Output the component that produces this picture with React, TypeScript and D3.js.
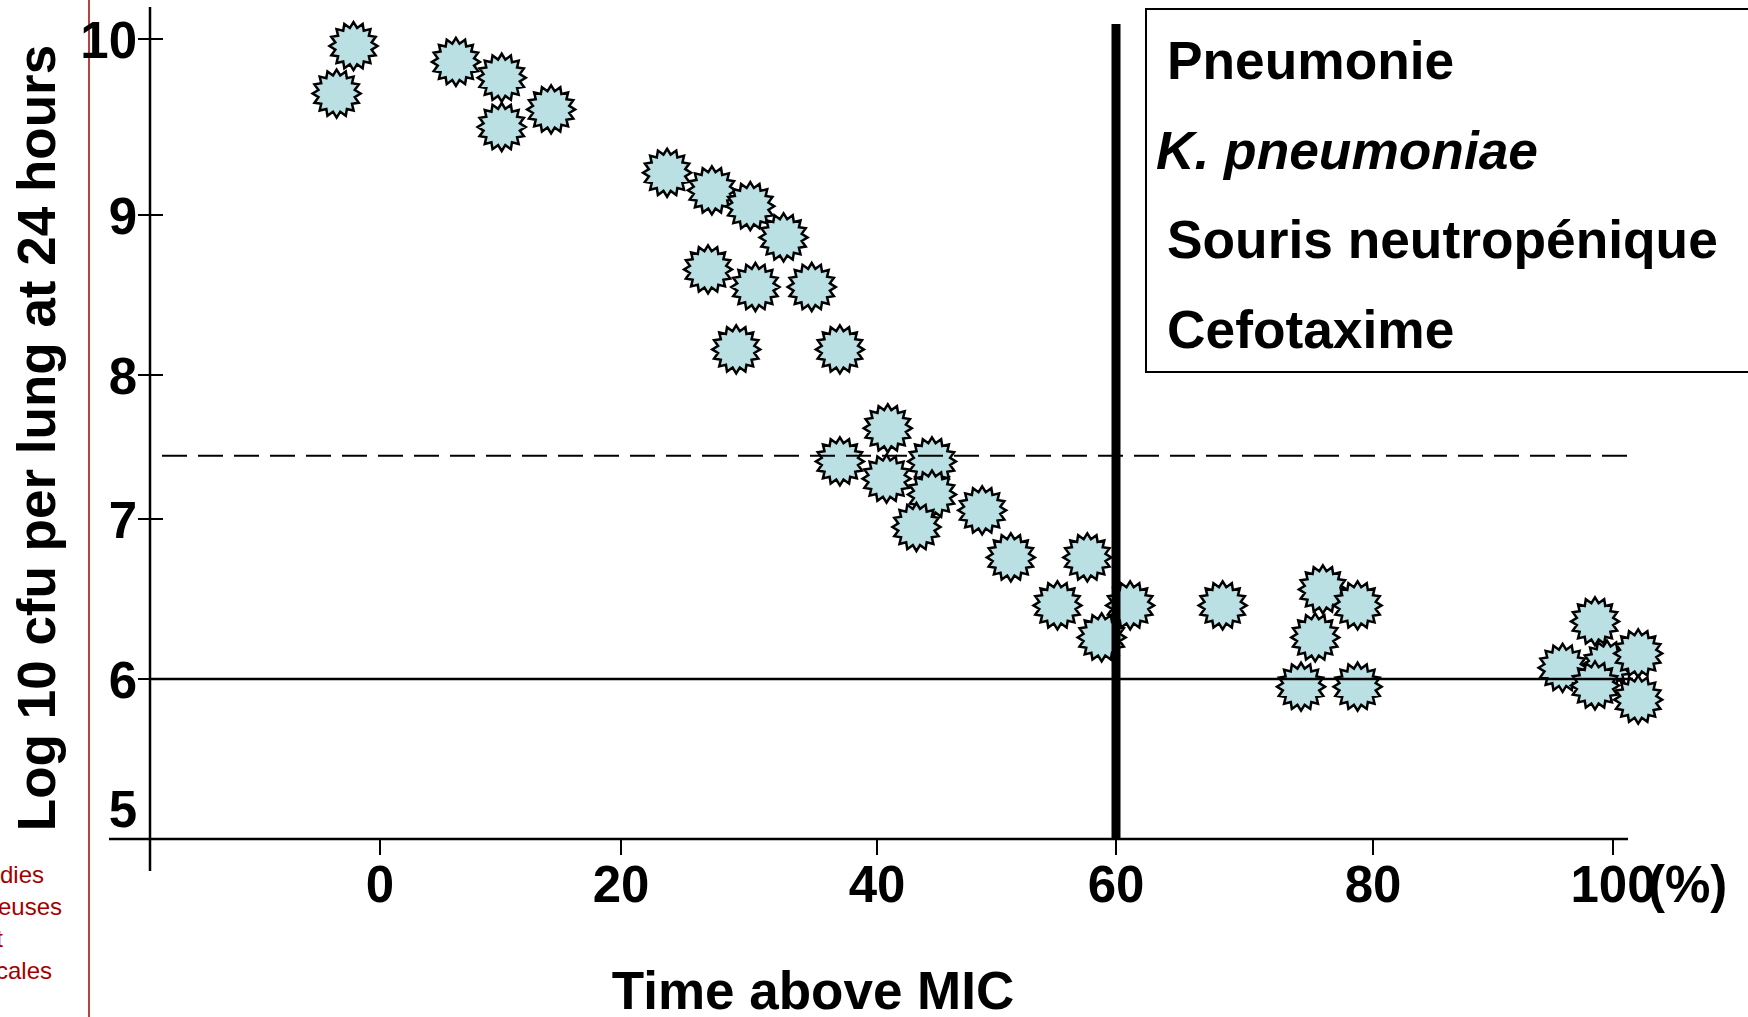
import React from 'react';
import * as d3 from 'd3';

// values
const timeAboveMic = [
  -2.2, -3.6, 6.3, 10.1, 10.1, 14.2,
  23.6, 27.1, 30.1, 32.7, 26.8, 30.5, 34.9, 29.0, 37.1,
  40.9, 37.1, 44.6, 40.8, 44.6, 43.3, 48.8, 51.2, 57.6, 55.1, 61.1, 58.8,
  68.3, 76.1, 78.8, 75.5, 74.4, 78.8,
  99.5, 98.5, 102.1, 95.8, 98.5, 102.1,
];
const log10Cfu = [
  9.96, 9.69, 9.87, 9.78, 9.5, 9.6,
  9.24, 9.14, 9.05, 8.86, 8.66, 8.55, 8.55, 8.16, 8.16,
  7.63, 7.4, 7.4, 7.28, 7.17, 6.95, 7.06, 6.76, 6.76, 6.46, 6.46, 6.26,
  6.46, 6.56, 6.46, 6.26, 5.94, 5.94,
  6.09, 6.36, 6.16, 6.07, 5.95, 5.84,
];

const xTicks = [0, 20, 40, 60, 80, 100];
const yTicks = [6, 7, 8, 9, 10];
const yLabels = [5, 6, 7, 8, 9, 10];
const legendLines = ['Pneumonie', 'K. pneumoniae', 'Souris neutropénique', 'Cefotaxime'];
const sideNotes = ['dies', 'euses', 't', 'cales'];

const dashedLevel = 7.44;
const solidLevel = 6;
const breakpoint = 60;

const W = 1748;
const H = 1017;
const FONT = 'Arial, "Liberation Sans", Helvetica, sans-serif';

// the slide was drawn by hand, so the axes are not quite even
const x = d3.scaleLinear().domain(xTicks).range([380, 621, 877, 1116, 1373, 1613]);
const y = d3.scaleLinear().domain(yLabels).range([808, 679, 519, 375, 215, 39]);

const axisX = 150;
const axisY = 839;

const starPath = d3.lineRadial().curve(d3.curveLinearClosed)(
  d3.range(32).map(i => [(i * Math.PI) / 16, i % 2 === 0 ? 24 : 18.5])
);

const App = () => {
  const points = timeAboveMic.map((t, i) => ({ t, v: log10Cfu[i] }));

  return (
    <svg width={W} height={H} style={{ position: 'absolute', left: 0, top: 0, background: '#fff' }}
      fontFamily={FONT}>
      {/* slide edge on the left */}
      <line x1={89} x2={89} y1={0} y2={H} stroke="#a40000" strokeWidth={1.5} />
      {sideNotes.map((s, i) => (
        <text key={s} x={[44, 62, 3, 52][i]} y={883 + i * 32} textAnchor="end" fontSize={24} fill="#a40000">{s}</text>
      ))}

      {/* axes */}
      <line x1={axisX} x2={axisX} y1={7} y2={871} stroke="#000" strokeWidth={2.5} />
      <line x1={109} x2={1628} y1={axisY} y2={axisY} stroke="#000" strokeWidth={2.5} />
      {yTicks.map(v => (
        <line key={'yt' + v} x1={138} x2={163} y1={y(v)} y2={y(v)} stroke="#000" strokeWidth={2} />
      ))}
      {yLabels.map(v => (
        <text key={'yl' + v} x={137} y={y(v) + 19} textAnchor="end" fontSize={51} fontWeight="bold">{v}</text>
      ))}
      {xTicks.map(v => (
        <line key={'xt' + v} x1={x(v)} x2={x(v)} y1={axisY} y2={axisY + 16} stroke="#000" strokeWidth={2} />
      ))}
      {xTicks.map(v => (
        <text key={'xl' + v} x={x(v)} y={902} textAnchor="middle" fontSize={51} fontWeight="bold">{v}</text>
      ))}
      <text x={1648} y={902} fontSize={51} fontWeight="bold">(%)</text>

      {/* data */}
      {points.map((p, i) => (
        <path key={i} d={starPath} transform={`translate(${x(p.t)},${y(p.v)})`}
          fill="#bae0e3" stroke="#000" strokeWidth={2.5} strokeLinejoin="miter" />
      ))}

      {/* reference lines */}
      <line x1={axisX} x2={1633} y1={y(solidLevel)} y2={y(solidLevel)} stroke="#000" strokeWidth={2.5} />
      <line x1={162} x2={1638} y1={y(dashedLevel)} y2={y(dashedLevel)} stroke="#000" strokeWidth={2}
        strokeDasharray="25 11" />
      <line x1={x(breakpoint)} x2={x(breakpoint)} y1={24} y2={axisY} stroke="#000" strokeWidth={9} />

      {/* legend box */}
      <rect x={1146} y={9} width={700} height={363} fill="#fff" stroke="#000" strokeWidth={2} />
      {legendLines.map((s, i) => (
        <text key={s} x={i === 1 ? 1156 : 1167} y={79 + i * 89.7} fontSize={53.3} fontWeight="bold"
          fontStyle={i === 1 ? 'italic' : 'normal'}>{s}</text>
      ))}

      {/* titles */}
      <text transform="translate(55,438) rotate(-90)" textAnchor="middle" fontSize={53} fontWeight="bold">
        Log 10 cfu per lung at 24 hours
      </text>
      <text x={813} y={1009} textAnchor="middle" fontSize={53} fontWeight="bold">Time above MIC</text>
    </svg>
  );
};

export default App;
